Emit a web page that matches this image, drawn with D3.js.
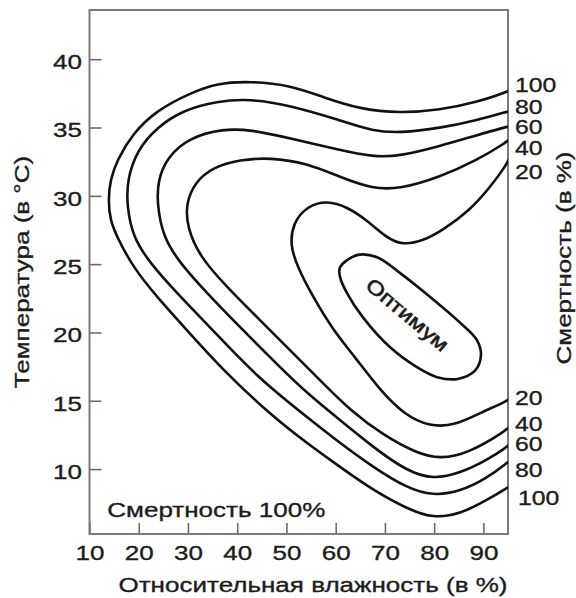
<!DOCTYPE html>
<html>
<head>
<meta charset="utf-8">
<script src="https://cdn.jsdelivr.net/npm/d3@7"></script>
<style>
    body { margin: 0; background: #fff; }
    text { font-family: "Liberation Sans", Arial, sans-serif; fill: #1c1c1c; stroke: #1c1c1c; stroke-width: 0.35; }
</style>
</head>
<body>
<svg id="chart"></svg>
<script>
const humidityTicks = [10, 20, 30, 40, 50, 60, 70, 80, 90];
const tempTicks = [10, 15, 20, 25, 30, 35, 40];

// mortality isolines: [relative humidity %, temperature °C]
const mort100 = [[95.5, 37.8], [94.79, 37.59], [88.7, 36.85], [81.18, 36.27], [73.06, 36.05], [64.94, 36.34], [57.43, 37.22], [50.72, 38.1], [42.59, 38.39], [35.89, 38.24], [30.41, 37.51], [23.71, 36.27], [18.83, 34.59], [15.58, 32.61], [14.2, 31.15], [13.8, 29.68], [14.2, 28.22], [15.58, 26.98], [18.83, 24.78], [23.71, 22.59], [29.8, 20.17], [37.11, 17.24], [47.28, 13.81], [54.18, 11.9], [60.88, 10.15], [67.58, 8.46], [74.48, 7.1], [79.76, 6.4], [85.24, 6.7], [90.73, 7.73], [94.79, 8.61], [95.5, 8.8]];
const mort80 = [[95.5, 36.2], [94.38, 36.12], [88.7, 35.54], [81.18, 34.95], [73.06, 34.6], [67.57, 34.73], [60.88, 35.54], [50.72, 36.63], [42.59, 37.1], [35.89, 36.93], [28.99, 36.27], [23.71, 35.02], [19.65, 33.34], [17.62, 31.15], [17.62, 29.17], [18.83, 26.98], [22.29, 25.07], [27.77, 22.88], [34.47, 20.39], [44.02, 16.73], [54.17, 13.81], [60.88, 11.9], [67.58, 10.15], [74.48, 8.6], [79.76, 8.05], [85.24, 8.35], [90.73, 9.34], [94.79, 10.44], [95.5, 10.7]];
const mort60 = [[95.5, 35.1], [94.38, 35.02], [88.7, 34.44], [81.18, 33.63], [73.06, 32.9], [67.57, 32.85], [60.88, 33.34], [50.72, 34.22], [42.59, 34.85], [37.11, 34.9], [30.41, 34.29], [25.74, 32.83], [23.91, 31.15], [23.71, 29.46], [24.93, 26.98], [28.38, 25.07], [33.86, 22.88], [40.57, 20.39], [48.69, 17.46], [54.17, 15.56], [60.88, 13.59], [67.58, 11.61], [74.48, 9.85], [79.76, 9.25], [85.24, 9.7], [90.73, 10.66], [94.79, 11.61], [95.5, 11.9]];
const mort40 = [[95.5, 34.2], [94.38, 33.85], [88.7, 32.61], [81.18, 31.37], [73.06, 30.5], [67.57, 30.5], [60.88, 31.37], [54.17, 32.39], [46.66, 32.8], [40.57, 32.65], [35.08, 32.1], [31.42, 31.0], [29.6, 29.46], [29.8, 27.71], [32.44, 25.51], [37.92, 23.32], [44.62, 20.9], [51.32, 18.49], [57.41, 16.29], [62.9, 14.32], [69.6, 12.49], [76.51, 11.15], [81.18, 10.75], [86.67, 11.1], [94.79, 12.85], [95.5, 13.2]];
const mort20 = [[95.5, 32.9], [94.38, 32.1], [91.34, 30.63], [87.28, 28.95], [81.79, 27.49], [77.73, 26.7], [73.67, 26.4], [70.42, 26.9], [66.36, 28.22], [62.3, 29.2], [58.23, 29.65], [54.17, 29.25], [51.33, 28.0], [50.72, 26.39], [52.34, 24.71], [55.19, 22.73], [59.45, 20.17], [63.92, 18.2], [68.99, 15.78], [73.87, 14.0], [79.15, 13.1], [84.23, 13.2], [89.3, 14.1], [94.79, 14.98], [95.5, 15.2]];
const optimum = [[60.9, 24.78], [64.3, 25.66], [68.4, 25.51], [73.1, 24.34], [79.2, 22.59], [84.7, 20.9], [88.7, 19.44], [89.5, 18.3], [88.3, 17.2], [84.8, 16.6], [80.6, 16.73], [76.5, 17.46], [71.0, 18.93], [65.5, 21.12], [62.3, 22.88], [60.9, 24.05]];

const mortLevels = [100, 80, 60, 40, 20];

class MortalityChart {
    constructor(_config) {
        this.config = {
            parentElement: _config.parentElement,
            containerWidth: _config.containerWidth || 576,
            containerHeight: _config.containerHeight || 598,
        }
        this.config.margin = _config.margin || { top: 10, bottom: 64, right: 68, left: 89.5 }
        this.initVis();
    }

    initVis() {
        let vis = this;
        const m = vis.config.margin;
        vis.width = vis.config.containerWidth - m.left - m.right;
        vis.height = vis.config.containerHeight - m.top - m.bottom;
        vis.sx = 1.24; // the original lettering is set wide

        vis.svg = d3.select(vis.config.parentElement)
            .attr("width", vis.config.containerWidth)
            .attr("height", vis.config.containerHeight);
        vis.chart = vis.svg.append("g").attr("transform", `translate(${m.left},${m.top})`);

        vis.xScale = d3.scaleLinear().domain([10, 95]).range([0, vis.width]);
        vis.yScale = d3.scaleLinear().domain([5.25, 43.6]).range([vis.height, 0]);

        vis.xAxis = d3.axisBottom(vis.xScale).tickValues(humidityTicks)
            .tickSize(-11).tickSizeOuter(0).tickPadding(11);
        vis.yAxis = d3.axisLeft(vis.yScale).tickValues(tempTicks)
            .tickSize(-12).tickSizeOuter(0).tickPadding(6);

        vis.line = d3.line()
            .x(d => vis.xScale(d[0]))
            .y(d => vis.yScale(d[1]))
            .curve(d3.curveBasis);

        vis.ring = d3.line()
            .x(d => vis.xScale(d[0]))
            .y(d => vis.yScale(d[1]))
            .curve(d3.curveCatmullRomClosed.alpha(0.5));

        vis.render();
    }

    render() {
        let vis = this;

        vis.chart.append("clipPath").attr("id", "plot-clip")
            .append("rect").attr("width", vis.width).attr("height", vis.height);

        const styleTicks = g => {
            g.select(".domain").remove();
            g.selectAll("line").attr("stroke", "#6b6b6b").attr("stroke-width", 1.6);
            g.selectAll("text").attr("font-size", 21)
                .attr("font-family", "Liberation Sans, Arial, sans-serif")
                .attr("fill", "#1c1c1c")
                .attr("transform", `scale(${vis.sx},1)`);
        };

        vis.chart.append("g")
            .attr("transform", `translate(0,${vis.height})`)
            .call(vis.xAxis)
            .call(styleTicks);

        vis.chart.append("g")
            .call(vis.yAxis)
            .call(styleTicks)
            .call(g => g.selectAll("text").attr("dy", "0.45em"));

        vis.chart.append("rect")
            .attr("width", vis.width).attr("height", vis.height)
            .attr("fill", "none").attr("stroke", "#7a7a7a").attr("stroke-width", 2);

        const curves = [mort100, mort80, mort60, mort40, mort20];
        vis.chart.append("g").attr("clip-path", "url(#plot-clip)")
            .selectAll(".isoline")
            .data(curves)
            .join("path")
            .attr("class", "isoline")
            .attr("d", vis.line)
            .attr("fill", "none").attr("stroke", "#111").attr("stroke-width", 2.6);

        vis.chart.append("path")
            .datum(optimum)
            .attr("d", vis.ring)
            .attr("fill", "none").attr("stroke", "#111").attr("stroke-width", 2.6);

        // level labels at the right edge
        const topY = [37.6, 36.0, 34.5, 33.0, 31.2];
        const botY = [7.35, 9.4, 11.3, 12.8, 14.7];
        const lab = vis.chart.append("g")
            .attr("font-size", 20);
        lab.selectAll(".top-label").data(mortLevels).join("text")
            .attr("class", "top-label")
            .attr("transform", (d, i) => `translate(${vis.width + 7},${vis.yScale(topY[i])}) scale(${vis.sx},1)`)
            .text(d => d);
        lab.selectAll(".bot-label").data(mortLevels).join("text")
            .attr("class", "bot-label")
            .attr("transform", (d, i) => `translate(${vis.width + (d === 100 ? 10 : 7)},${vis.yScale(botY[i])}) scale(${vis.sx},1)`)
            .text(d => d);

        vis.chart.append("text")
            .attr("font-size", 21)
            .attr("transform", `translate(${vis.xScale(13.6)},${vis.yScale(6.5)}) scale(${vis.sx},1)`)
            .text("Смертность 100%");

        vis.chart.append("text")
            .attr("font-size", 20)
            .attr("text-anchor", "middle")
            .style("stroke-width", 0.6)
            .attr("transform", `translate(${vis.xScale(74.6)},${vis.yScale(21.3)}) rotate(40) scale(1.2,1)`)
            .attr("dy", "0.35em")
            .text("Оптимум");

        // axis titles
        vis.svg.append("text")
            .attr("font-size", 21)
            .attr("text-anchor", "middle")
            .attr("transform", `translate(29,272) rotate(-90) scale(${vis.sx},1)`)
            .text("Температура  (в °C)");

        vis.svg.append("text")
            .attr("font-size", 21)
            .attr("text-anchor", "middle")
            .attr("transform", `translate(571,258) rotate(-90) scale(${vis.sx},1)`)
            .text("Смертность  (в %)");

        vis.svg.append("text")
            .attr("font-size", 21)
            .attr("text-anchor", "middle")
            .attr("transform", `translate(313,592) scale(${vis.sx},1)`)
            .text("Относительная влажность  (в %)");
    }
}

new MortalityChart({ parentElement: "#chart" });
</script>
</body>
</html>
